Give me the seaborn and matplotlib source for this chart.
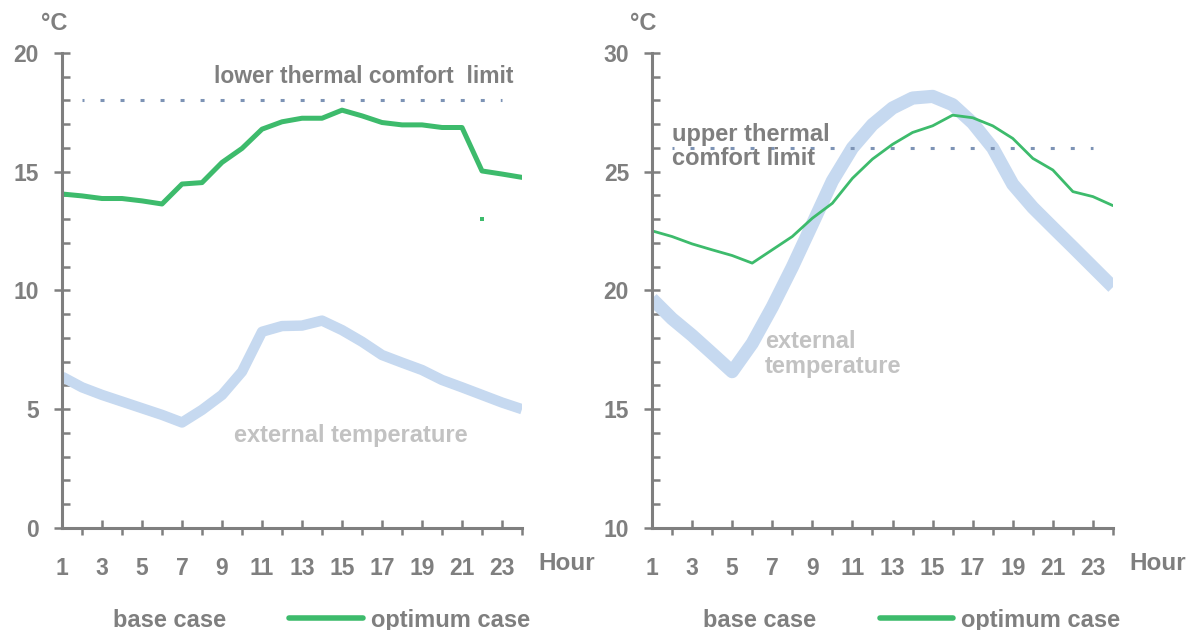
import numpy as np
import pandas as pd
import seaborn as sns
import matplotlib.pyplot as plt
from matplotlib.lines import Line2D
from matplotlib.ticker import MultipleLocator, FixedLocator, FixedFormatter

# hourly values (winter left, summer right)
hours = list(range(1, 25))
winter_optimum = [14.06, 13.98, 13.87, 13.87, 13.77, 13.64, 14.48, 14.54, 15.39, 15.98, 16.79, 17.10,
                  17.25, 17.25, 17.59, 17.35, 17.07, 16.97, 16.97, 16.86, 16.86, 15.03, 14.90, 14.76]
winter_external = [6.37, 5.92, 5.60, 5.32, 5.04, 4.76, 4.44, 4.97, 5.60, 6.58, 8.26, 8.50,
                   8.52, 8.73, 8.33, 7.84, 7.28, 6.96, 6.65, 6.23, 5.92, 5.60, 5.28, 5.00]
summer_optimum = [22.51, 22.27, 21.96, 21.71, 21.47, 21.15, 21.71, 22.27, 23.04, 23.67, 24.72, 25.53,
                  26.15, 26.65, 26.93, 27.38, 27.27, 26.93, 26.40, 25.56, 25.07, 24.16, 23.95, 23.57]
summer_external = [19.65, 18.81, 18.11, 17.35, 16.58, 17.77, 19.30, 20.98, 22.79, 24.61, 26.00, 26.98,
                   27.68, 28.10, 28.17, 27.82, 27.05, 26.00, 24.47, 23.49, 22.65, 21.82, 20.98, 20.14]
limit_hours = hours[1:23]
winter_limit = 18
summer_limit = 26
# a single stray point of the (white) base case line in the winter panel
winter_base_hour = [22]
winter_base_value = [13]
odd_hours = hours[0::2]
even_hours = hours[1::2]
tick_labels = [str(h) for h in odd_hours]

GREY = "#7f7f7f"
GREEN = "#3dbb6c"
EXT_BLUE = "#c6d9f0"
LIMIT_BLUE = "#7d93b5"
EXT_TEXT = "#c2c2c2"

sns.set_theme(style="white")
plt.rcParams["font.family"] = ["Liberation Sans", "DejaVu Sans"]


def draw_panel(ax, optimum, external, limit, ylim, opt_lw, ext_lw):
    df = pd.DataFrame({"hour": hours, "optimum": optimum, "external": external})
    sns.lineplot(data=df, x="hour", y="external", ax=ax, color=EXT_BLUE, lw=ext_lw,
                 solid_joinstyle="round", solid_capstyle="butt")
    lim = pd.DataFrame({"hour": limit_hours, "limit": [limit] * len(limit_hours)})
    sns.lineplot(data=lim, x="hour", y="limit", ax=ax, color=LIMIT_BLUE, lw=2.2,
                 dashes=False, ls=(0.65, (1.3, 5.25)), dash_capstyle="butt")
    sns.lineplot(data=df, x="hour", y="optimum", ax=ax, color=GREEN, lw=opt_lw,
                 solid_joinstyle="round")

    ax.set_xlim(1, 24)
    ax.set_ylim(*ylim)
    ax.set_xlabel("")
    ax.set_ylabel("")
    for s in ["top", "right"]:
        ax.spines[s].set_visible(False)
    for s in ["left", "bottom"]:
        ax.spines[s].set_color(GREY)
        ax.spines[s].set_linewidth(2.2)

    ax.yaxis.set_major_locator(MultipleLocator(5))
    ax.yaxis.set_minor_locator(MultipleLocator(1))
    # labelled odd hours tick upwards, even hours tick downwards
    ax.xaxis.set_major_locator(FixedLocator(odd_hours))
    ax.xaxis.set_major_formatter(FixedFormatter(tick_labels))
    ax.xaxis.set_minor_locator(FixedLocator(even_hours))
    ax.tick_params(axis="y", which="major", direction="inout", length=11, width=1.8,
                   color=GREY, pad=11, labelsize=16.5, labelcolor=GREY, left=True)
    ax.tick_params(axis="y", which="minor", direction="in", length=6, width=1.8,
                   color=GREY, left=True)
    ax.tick_params(axis="x", which="major", direction="in", length=6, width=1.8,
                   color=GREY, pad=21, labelsize=16.5, labelcolor=GREY, bottom=True)
    ax.tick_params(axis="x", which="minor", direction="out", length=5, width=1.8,
                   color=GREY, bottom=True)
    for lbl in ax.get_xticklabels() + ax.get_yticklabels():
        lbl.set_fontweight("bold")

    ax.text(-0.018, 1.061, "°C", transform=ax.transAxes, ha="center", va="center",
            fontsize=17, fontweight="bold", color=GREY)
    ax.text(1.036, -0.074, "Hour", transform=ax.transAxes, ha="left", va="center",
            fontsize=17.5, fontweight="bold", color=GREY)

    handles = [Line2D([], [], color="white", lw=4),
               Line2D([], [], color=GREEN, lw=4)]
    leg = ax.legend(handles, ["base case", "optimum case"], loc="center",
                    bbox_to_anchor=(0.475, -0.194), ncol=2, frameon=False,
                    handlelength=3.1, handletextpad=0.35, columnspacing=2.7,
                    prop={"size": 17, "weight": "bold"})
    for t in leg.get_texts():
        t.set_color(GREY)


fig = plt.figure(figsize=(12, 6.3), dpi=100)
ax1 = fig.add_axes([0.0517, 0.162, 0.3833, 0.754])
ax2 = fig.add_axes([0.5433, 0.162, 0.3842, 0.754])

draw_panel(ax1, winter_optimum, winter_external, winter_limit, (0, 20), 3.6, 7.5)
ax1.scatter(winter_base_hour, winter_base_value, color=GREEN, s=10, marker="s", lw=0)
ax1.text(8.6, 19.0, "lower thermal comfort  limit", ha="left", va="center",
         fontsize=16.5, fontweight="bold", color=GREY)
ax1.text(9.6, 3.9, "external temperature", ha="left", va="center",
         fontsize=17, fontweight="bold", color=EXT_TEXT)

draw_panel(ax2, summer_optimum, summer_external, summer_limit, (10, 30), 2.0, 9.5)
ax2.text(2.0, 26.06, "upper thermal\ncomfort limit", ha="left", va="center",
         fontsize=17, fontweight="bold", color=GREY, linespacing=1.1)
ax2.text(6.65, 17.33, "external\ntemperature", ha="left", va="center",
         fontsize=17, fontweight="bold", color=EXT_TEXT, linespacing=1.1)

fig.savefig("out.png", dpi=100)
